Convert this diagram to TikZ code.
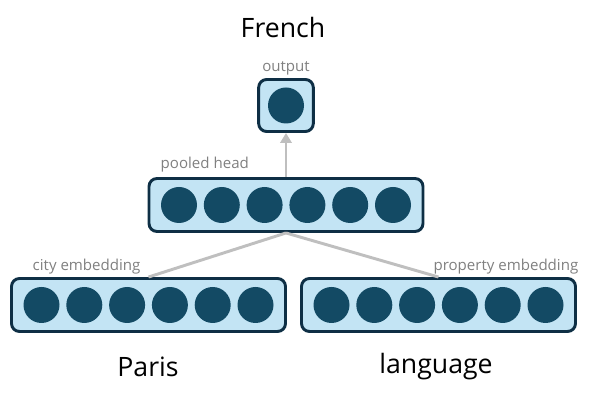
\documentclass[tikz,border=0pt]{standalone}
\usepackage{fontspec}
\setmainfont{Open Sans}
\usetikzlibrary{arrows.meta}
\definecolor{layerfill}{HTML}{C3E4F4}
\definecolor{layerline}{HTML}{0E2F45}
\definecolor{unitblue}{HTML}{134A64}
\definecolor{linkgray}{HTML}{BFBFBF}
\definecolor{notegray}{HTML}{808080}
\begin{document}
\begin{tikzpicture}[x=0.75pt, y=-0.75pt,
  layer/.style={draw=layerline, fill=layerfill, line width=2.2pt, rounded corners=6pt,
    minimum width=205.5pt, minimum height=39.75pt, inner sep=0pt},
  unit/.style={circle, fill=unitblue, minimum size=27pt, inner sep=0pt},
  link/.style={draw=linkgray, line width=2.2pt},
  note/.style={text=notegray, font=\fontsize{11.3}{13}\selectfont},
  word/.style={font=\fontsize{20}{24}\selectfont}]
\useasboundingbox (0,0) rectangle (594,402);

  \node[layer, minimum width=41pt, minimum height=39pt] (out) at (286,105.5) {};
  \node[layer] (pool) at (286,205) {};
  \node[layer] (city) at (148.5,305) {};
  \node[layer] (prop) at (438.5,305) {};

  \node[unit] (o1) at (out) {};
  \foreach \i in {0,...,5}{
    \node[unit] (p\i) at (179+\i*42.8,205) {};
    \node[unit] (c\i) at (41.5+\i*42.8,305) {};
    \node[unit] (r\i) at (331.5+\i*42.8,305) {};
  }

  \draw[link, -{Triangle[width=8.5pt,length=7.5pt]}] (pool.north) -- (out.south);
  \draw[link] (pool.south) -- (city.north);
  \draw[link] (pool.south) -- (prop.north);

  \node[note] (outlabel) at (286,68) {output};
  \node[note, anchor=west] (poollabel) at (156,165) {pooled head};
  \node[note, anchor=west] (citylabel) at (28,267) {city embedding};
  \node[note, anchor=east] (proplabel) at (583,267) {property embedding};

  \node[word] (french) at (283,28) {French};
  \node[word] (paris) at (148,367) {Paris};
  \node[word] (language) at (436,367) {language};

\end{tikzpicture}
\end{document}
